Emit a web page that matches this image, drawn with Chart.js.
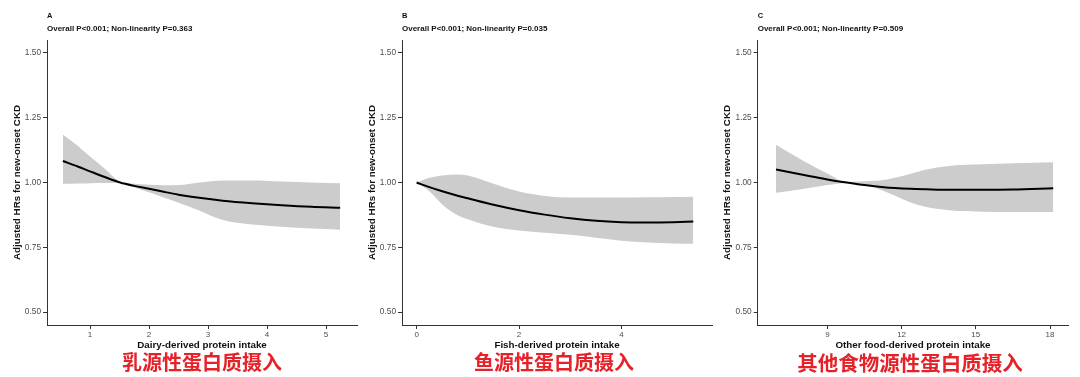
<!DOCTYPE html>
<html>
<head>
<meta charset="UTF-8">
<title>RCS protein intake</title>
<script src="https://cdn.jsdelivr.net/npm/chart.js"></script>
<style>
body{margin:0;background:#fff;width:1080px;height:377px;position:relative;overflow:hidden;}
.panel{position:absolute;top:0;width:360px;height:377px;}
.cap{position:absolute;font-family:"Noto Sans CJK SC";font-weight:bold;color:#e52229;white-space:nowrap;transform:translate(-50%,-50%);line-height:1;}
</style>
</head>
<body>
<div class="panel" style="left:0"><canvas id="cA" width="360" height="377"></canvas></div>
<div class="panel" style="left:360px"><canvas id="cB" width="360" height="377"></canvas></div>
<div class="panel" style="left:720px"><canvas id="cC" width="360" height="377"></canvas></div>
<div class="cap" style="left:202px;top:362px;font-size:20px">乳源性蛋白质摄入</div>
<div class="cap" style="left:554px;top:362px;font-size:20px">鱼源性蛋白质摄入</div>
<div class="cap" style="left:910px;top:362px;font-size:20.5px">其他食物源性蛋白质摄入</div>
<script>
// y axis (shared)
const hrTicks = [0.5, 0.75, 1.0, 1.25, 1.5];

// A: dairy
const dairyX     = [0.54, 0.8, 1.0, 1.25, 1.51, 1.75, 2.0, 2.25, 2.5, 2.85, 3.25, 3.75, 4.25, 4.75, 5.24];
const dairyHR    = [1.083, 1.061, 1.043, 1.021, 1.0, 0.987, 0.976, 0.964, 0.953, 0.941, 0.93, 0.92, 0.912, 0.906, 0.903];
const dairyUpper = [1.185, 1.14, 1.10, 1.053, 1.003, 0.995, 0.991, 0.989, 0.99, 1.0, 1.008, 1.008, 1.004, 1.0, 0.997];
const dairyLower = [0.995, 0.996, 0.997, 0.998, 0.998, 0.981, 0.962, 0.942, 0.922, 0.892, 0.855, 0.838, 0.829, 0.822, 0.818];
const dairyTicks = [1, 2, 3, 4, 5];

// B: fish
const fishX     = [0, 0.25, 0.5, 0.8, 1.0, 1.5, 2.0, 2.5, 3.0, 3.5, 4.0, 4.5, 5.0, 5.4];
const fishHR    = [1.0, 0.982, 0.966, 0.949, 0.939, 0.914, 0.893, 0.876, 0.862, 0.852, 0.847, 0.846, 0.847, 0.849];
const fishUpper = [1.0, 1.018, 1.027, 1.031, 1.027, 0.995, 0.965, 0.948, 0.942, 0.942, 0.942, 0.943, 0.944, 0.945];
const fishLower = [1.0, 0.966, 0.915, 0.874, 0.858, 0.829, 0.815, 0.806, 0.798, 0.787, 0.775, 0.768, 0.765, 0.764];
const fishTicks = [0, 2, 4];

// C: other food
const otherX     = [6.92, 8, 9, 9.78, 10.5, 11.28, 12.34, 13, 14, 15.3, 16.5, 18.13];
const otherHR    = [1.05, 1.03, 1.012, 1.0, 0.99, 0.982, 0.976, 0.974, 0.972, 0.972, 0.973, 0.978];
const otherUpper = [1.146, 1.085, 1.035, 1.002, 1.005, 1.01, 1.033, 1.05, 1.065, 1.07, 1.074, 1.078];
const otherLower = [0.96, 0.975, 0.99, 0.998, 0.99, 0.967, 0.924, 0.905, 0.892, 0.887, 0.886, 0.886];
const otherTicks = [9, 12, 15, 18];

const FONT = 'Liberation Sans, Arial, sans-serif';

// panel letter + p-value line above the plot
const headText = {
  id: 'headText',
  afterDraw(chart, args, o) {
    const ctx = chart.ctx;
    ctx.save();
    ctx.fillStyle = '#111';
    ctx.textBaseline = 'middle';
    ctx.textAlign = 'left';
    ctx.font = 'bold 7.5px ' + FONT;
    ctx.fillText(o.letter, o.x, 15.7);
    ctx.font = 'bold 8px ' + FONT;
    ctx.fillText(o.sub, o.x, 29);
    ctx.restore();
  }
};

function pts(xs, ys) {
  return xs.map((x, i) => ({x: x, y: ys[i]}));
}

function makePanel(id, p) {
  new Chart(document.getElementById(id), {
    type: 'line',
    data: {
      datasets: [
        {data: pts(p.xs, p.hr), fill: false, borderColor: '#000', borderWidth: 2, pointRadius: 0},
        {data: pts(p.xs, p.up), fill: '+1', backgroundColor: '#cccccc', borderWidth: 0, pointRadius: 0},
        {data: pts(p.xs, p.lo), fill: false, borderWidth: 0, pointRadius: 0}
      ]
    },
    options: {
      responsive: false,
      animation: false,
      devicePixelRatio: 1,
      cubicInterpolationMode: 'monotone',
      layout: {padding: {left: 0, top: 40, right: 360 - p.right, bottom: 22}},
      plugins: {
        legend: {display: false},
        tooltip: {enabled: false},
        filler: {drawTime: 'beforeDatasetsDraw'},
        headText: {letter: p.letter, sub: p.sub, x: p.axisX}
      },
      scales: {
        x: {
          type: 'linear',
          min: p.xmin, max: p.xmax,
          afterBuildTicks: s => { s.ticks = p.ticks.map(v => ({value: v})); },
          afterFit: s => { s.height = 30; },
          border: {display: true, color: '#333', width: 1},
          grid: {drawOnChartArea: false, drawTicks: true, tickLength: 4, color: '#333'},
          ticks: {color: '#4d4d4d', font: {family: FONT, size: 8}, padding: 1, maxRotation: 0,
                  callback: v => String(v)},
          title: {display: true, text: p.xLabel, color: '#111',
                  font: {family: FONT, size: 9.8, weight: 'bold'}, padding: {top: 0, bottom: 4.1}}
        },
        y: {
          min: 0.45, max: 1.55,
          afterBuildTicks: s => { s.ticks = hrTicks.map(v => ({value: v})); },
          afterFit: s => { s.width = p.axisX; },
          border: {display: true, color: '#333', width: 1},
          grid: {drawOnChartArea: false, drawTicks: true, tickLength: 4, color: '#333'},
          ticks: {color: '#4d4d4d', font: {family: FONT, size: 8.3}, padding: 2,
                  callback: v => v.toFixed(2)},
          title: {display: true, text: 'Adjusted HRs for new-onset CKD', color: '#111',
                  font: {family: FONT, size: 9.8, weight: 'bold'},
                  padding: {top: p.axisX - 30 - 5.9, bottom: 0}}
        }
      }
    },
    plugins: [headText]
  });
}

makePanel('cA', {letter: 'A', sub: 'Overall P<0.001; Non-linearity P=0.363',
  xLabel: 'Dairy-derived protein intake', xs: dairyX, hr: dairyHR, up: dairyUpper, lo: dairyLower,
  ticks: dairyTicks, xmin: 0.271, xmax: 5.525, axisX: 47, right: 357});
makePanel('cB', {letter: 'B', sub: 'Overall P<0.001; Non-linearity P=0.035',
  xLabel: 'Fish-derived protein intake', xs: fishX, hr: fishHR, up: fishUpper, lo: fishLower,
  ticks: fishTicks, xmin: -0.285, xmax: 5.765, axisX: 42, right: 352});
makePanel('cC', {letter: 'C', sub: 'Overall P<0.001; Non-linearity P=0.509',
  xLabel: 'Other food-derived protein intake', xs: otherX, hr: otherHR, up: otherUpper, lo: otherLower,
  ticks: otherTicks, xmin: 6.18, xmax: 18.74, axisX: 37.7, right: 348.3});
</script>
</body>
</html>
